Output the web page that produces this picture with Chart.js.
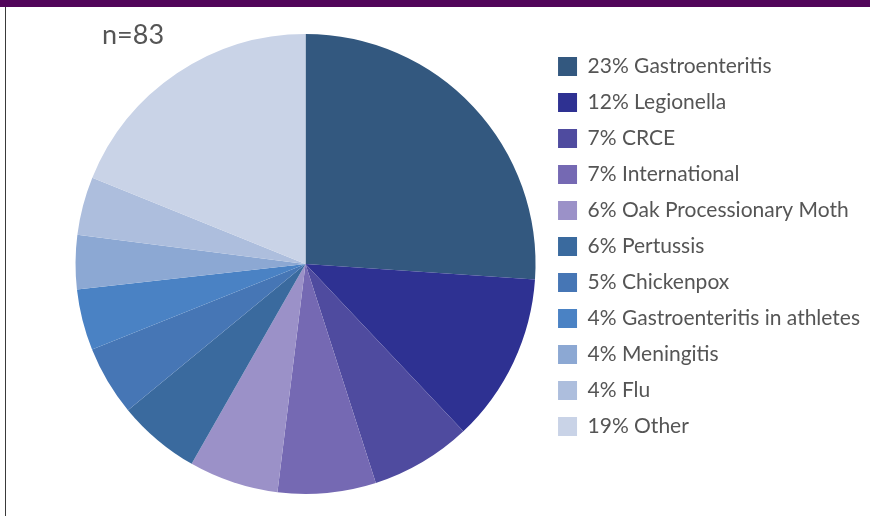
<!DOCTYPE html>
<html>
<head>
<meta charset="utf-8">
<script src="https://cdn.jsdelivr.net/npm/chart.js@4.4.1/dist/chart.umd.min.js"></script>
<style>
  html, body { margin: 0; padding: 0; background: #fff; }
  body { width: 870px; height: 516px; position: relative; overflow: hidden; }
  #topbar { position: absolute; left: 0; top: 0; width: 870px; height: 7px; background: #52065a; }
  #leftline { position: absolute; left: 5px; top: 7px; width: 1px; height: 509px; background: #3a3a3a; }
  #n { position: absolute; left: 102px; top: 17px; font-family: Lato, sans-serif; font-size: 27px; color: #555; }
  #wrap { position: absolute; left: 0; top: 0; width: 870px; height: 516px; }
</style>
</head>
<body>
<div id="topbar"></div>
<div id="leftline"></div>
<div id="wrap"><canvas id="pieChart"></canvas></div>
<div id="n">n=83</div>
<script>
const categories = ['Gastroenteritis', 'Legionella', 'CRCE', 'International', 'Oak Processionary Moth',
    'Pertussis', 'Chickenpox', 'Gastroenteritis in athletes', 'Meningitis', 'Flu', 'Other'];
const percentLabels = ['23%', '12%', '7%', '7%', '6%', '6%', '5%', '4%', '4%', '4%', '19%'];
// slice sizes as drawn in the picture
const sliceValues = [26.1, 11.9, 7.1, 6.9, 6.3, 5.8, 4.9, 4.3, 3.8, 4.1, 18.9];
const sliceColors = ['#33587f', '#2e3192', '#4f4b9f', '#7569b3', '#9b91c8',
    '#3a6a9e', '#4676b5', '#4a82c4', '#8ca8d3', '#adbedd', '#c9d3e7'];

const ctx = document.getElementById('pieChart');

const pieChart = new Chart(ctx, {
    type: 'pie',
    data: {
        labels: categories.map((c, i) => percentLabels[i] + ' ' + c),
        datasets: [{
            data: sliceValues,
            backgroundColor: sliceColors,
            borderWidth: 0
        }]
    },
    options: {
        responsive: true,
        maintainAspectRatio: false,
        animation: false,
        layout: {
            padding: { left: 68, right: 0, top: 34, bottom: 22 }
        },
        plugins: {
            tooltip: { enabled: false },
            legend: {
                position: 'right',
                align: 'start',
                maxWidth: 328,
                title: {
                    display: true,
                    text: ' ',
                    font: { size: 7, lineHeight: 1 },
                    padding: 0
                },
                labels: {
                    boxWidth: 19,
                    boxHeight: 19,
                    padding: 15,
                    color: '#555',
                    font: { family: 'Lato', size: 21 }
                }
            }
        }
    }
});
</script>
</body>
</html>
